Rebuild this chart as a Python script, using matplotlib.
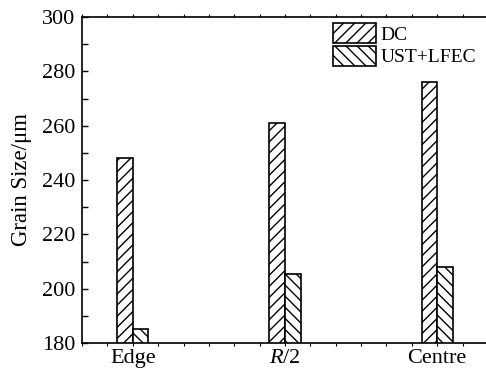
import numpy as np
from matplotlib import pyplot as plt
from matplotlib.ticker import MultipleLocator

plt.rcParams['font.family'] = ['Liberation Serif', 'DejaVu Serif']
plt.rcParams['mathtext.fontset'] = 'custom'
plt.rcParams['mathtext.rm'] = 'Liberation Serif'
plt.rcParams['mathtext.it'] = 'Liberation Serif:italic'
plt.rcParams['hatch.linewidth'] = 1.0

# 数据
positions = ['Edge', '$R$/2', 'Centre']
dc = [248, 261, 276]
ust_lfec = [185, 205.5, 208]

fig = plt.figure(figsize=(4.86, 3.70), dpi=100)
ax = fig.add_axes([82/486, 1-343/370, 406/486, 326/370])

x = np.arange(1, len(positions)+1)
w = 0.103
ax.bar(x - w/2, dc, w, color='white', edgecolor='black', linewidth=1.2, hatch='///', label='DC', zorder=2)
ax.bar(x + w/2, ust_lfec, w, color='white', edgecolor='black', linewidth=1.2, hatch='\\\\\\', label='UST+LFEC', zorder=2)

ax.set_xlim(2/3, 10/3)
ax.set_ylim(180, 300)
ax.set_xticks(x)
ax.set_xticklabels(positions)
ax.xaxis.set_minor_locator(MultipleLocator(1/6))
ax.yaxis.set_major_locator(MultipleLocator(20))
ax.yaxis.set_minor_locator(MultipleLocator(10))
ax.tick_params(axis='x', which='both', direction='out', length=2, width=0.8, top=True, labelsize=16, pad=2)
ax.tick_params(axis='y', which='both', direction='in', length=4, width=1, labelsize=16, pad=5)
for s in ax.spines.values():
    s.set_linewidth(1.2)

ax.set_ylabel('Grain Size/μm', fontsize=16.5, labelpad=7)

ax.legend(loc='upper left', bbox_to_anchor=((333-82)/406, (343-23)/326), frameon=False,
          fontsize=14, borderpad=0, labelspacing=0.12, handlelength=2.2, handleheight=1.2,
          handletextpad=0.25, borderaxespad=0)

fig.savefig('out.png', dpi=100)
